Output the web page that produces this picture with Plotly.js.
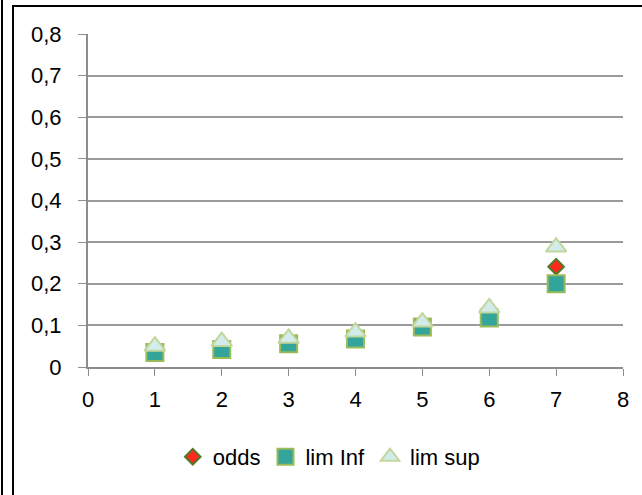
<!DOCTYPE html>
<html>
<head>
<meta charset="utf-8">
<script src="https://cdn.plot.ly/plotly-3.0.1.min.js"></script>
<style>
html,body{margin:0;padding:0;background:#fff;}
#wrap{position:relative;width:642px;height:495px;overflow:hidden;}
#chart{position:absolute;left:0;top:0;width:642px;height:495px;}
.b{position:absolute;background:#000;}
</style>
</head>
<body>
<div id="wrap">
<div id="chart"></div>
<div class="b" style="left:1px;top:0;width:2px;height:495px;"></div>
<div class="b" style="left:12px;top:5px;width:2px;height:490px;"></div>
<div class="b" style="left:12px;top:5px;width:630px;height:2px;"></div>
</div>
<script>
var xVals = [1, 2, 3, 4, 5, 6, 7];
var odds = [0.040, 0.050, 0.062, 0.075, 0.100, 0.130, 0.241];
var limInf = [0.035, 0.042, 0.056, 0.067, 0.096, 0.118, 0.200];
var limSup = [0.050, 0.061, 0.069, 0.084, 0.108, 0.142, 0.288];
var yTicks = [0, 0.1, 0.2, 0.3, 0.4, 0.5, 0.6, 0.7, 0.8];
var yTickText = ['0', '0,1', '0,2', '0,3', '0,4', '0,5', '0,6', '0,7', '0,8'];
var xTicks = [0, 1, 2, 3, 4, 5, 6, 7, 8];

var font = {family: 'Liberation Sans, Arial, sans-serif', size: 22, color: '#000'};

var traces = [
  {x: xVals, y: odds, name: 'odds', type: 'scatter', mode: 'markers',
   marker: {symbol: 'diamond', size: 12, color: '#FF2A1F', line: {color: '#4F7A28', width: 2}}},
  {x: xVals, y: limInf, name: 'lim Inf', type: 'scatter', mode: 'markers',
   marker: {symbol: 'square', size: 17, color: '#33A59A', line: {color: '#9BBB59', width: 2}}},
  {x: xVals, y: limSup, name: 'lim sup', type: 'scatter', mode: 'markers',
   marker: {symbol: 'triangle-up', size: 18, color: '#D2ECEB', line: {color: '#C3D69B', width: 2}}}
];

var layout = {
  width: 642, height: 495,
  margin: {l: 88, r: 19, t: 34, b: 128},
  paper_bgcolor: '#fff', plot_bgcolor: '#fff',
  font: font,
  separators: ', ',
  showlegend: true,
  xaxis: {range: [0, 8], tickvals: xTicks, ticks: 'outside', ticklen: 7, tickcolor: '#8c8c8c',
          showline: true, linecolor: '#8c8c8c', linewidth: 2, showgrid: false, zeroline: false,
          tickfont: font, ticklabelstandoff: 5, fixedrange: true},
  yaxis: {range: [0, 0.8], tickvals: yTicks, ticktext: yTickText, ticks: 'outside', ticklen: 8,
          tickcolor: '#8c8c8c', showline: true, linecolor: '#8c8c8c', linewidth: 2,
          showgrid: true, gridcolor: '#9a9a9a', gridwidth: 2, zeroline: false,
          tickfont: font, ticklabelstandoff: 12, fixedrange: true},
  legend: {orientation: 'h', x: 0.45, xanchor: 'center', y: -0.27, yanchor: 'middle',
           font: font, itemwidth: 30, bgcolor: 'rgba(0,0,0,0)'}
};

Plotly.newPlot('chart', traces, layout, {displayModeBar: false, staticPlot: true});
</script>
</body>
</html>
